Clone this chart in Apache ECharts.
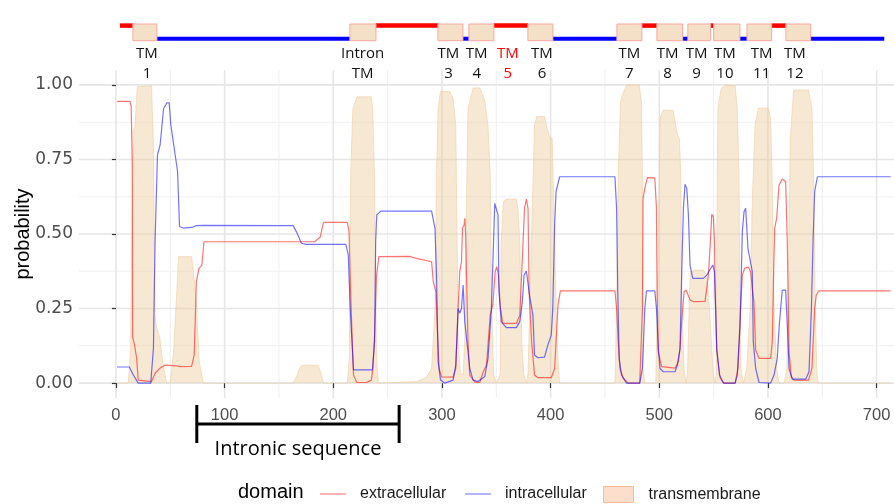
<!DOCTYPE html>
<html><head><meta charset="utf-8">
<script src="https://cdn.jsdelivr.net/npm/echarts@6/dist/echarts.min.js"></script>
<style>html,body{margin:0;padding:0;background:#fff}#c{width:894px;height:504px}</style>
</head><body><div id="c"></div>
<script>
// ---- axis ticks ----
const xTicks = [0,100,200,300,400,500,600,700];
const xMinor = [50,150,250,350,450,550,650];
const yTicks = [0,0.25,0.5,0.75,1];
const yMinor = [0.125,0.375,0.625,0.875];

// ---- extracellular probability ----
const extraPos = [1,12.9,14,15,15.3,17,19,20.5,22,32.8,36,40.5,45,55.8,58.8,69.6,72,74,76.4,79,81,183,188,191,212.9,214.5,215.5,217,218.6,221.7,230.7,235,236.5,238,239.8,242,270.5,276.7,290.5,292,294.5,296,297.4,299.6,310.3,312.7,314.9,316.4,318,318.9,320.4,321,321.8,322.6,324,325.6,330.3,334.8,338,341,344.4,346.8,349,350.5,352,353.5,355.9,368.5,371.6,374,376,377.7,379.2,380.2,382.5,385.2,388.3,400.6,403.7,406.8,409,459.2,460.7,462.2,463.8,466.8,471.4,482,484.5,485.1,487.3,489.1,495.9,497.4,498,499.1,502.1,503.7,514.5,517.6,519.1,520.6,522.8,524.7,528.3,531.4,542.1,545.2,547.4,548.3,549.8,550.8,551.4,552.9,556,559.1,569.8,572.4,574.9,576.4,578.6,581.6,584.1,585.6,587.1,588.7,591.8,602.5,604,605.2,606.2,608,610.2,613.2,616.3,617.8,619.4,621.5,624,637.4,640.5,643,644.5,646.6,713];
const extraVal = [0.945,0.945,0.93,0.74,0.155,0.13,0.085,0.01,0.005,0.005,0.033,0.05,0.06,0.058,0.055,0.056,0.094,0.34,0.385,0.395,0.474,0.474,0.49,0.539,0.539,0.508,0.362,0.19,0.027,0.002,0.002,0.01,0.05,0.16,0.362,0.424,0.425,0.418,0.407,0.34,0.306,0.16,0.049,0.021,0.02,0.049,0.25,0.374,0.407,0.519,0.53,0.553,0.5,0.362,0.139,0.027,0.003,0.002,0.038,0.06,0.228,0.262,0.374,0.39,0.362,0.262,0.2,0.2,0.228,0.418,0.586,0.617,0.586,0.306,0.139,0.027,0.018,0.018,0.049,0.262,0.309,0.309,0.25,0.139,0.049,0.017,0.0,0.0,0.25,0.62,0.664,0.689,0.688,0.586,0.306,0.105,0.055,0.05,0.05,0.072,0.116,0.206,0.306,0.312,0.279,0.273,0.274,0.362,0.497,0.566,0.558,0.474,0.306,0.105,0.017,0.0,0.0,0.05,0.25,0.362,0.385,0.39,0.374,0.317,0.273,0.111,0.083,0.083,0.139,0.362,0.519,0.553,0.664,0.685,0.675,0.474,0.105,0.021,0.01,0.01,0.05,0.25,0.295,0.309,0.309];

// ---- intracellular probability ----
const intraPos = [1,12.3,16,20.5,32,34.5,36,38.2,40.7,43.8,46.9,49,50.5,54.5,56.7,58.5,62,69.6,74,80.4,163,166,170.7,175,211.6,213.8,215.5,218.6,236,238,239,240,244,290.5,293.6,295,296.5,298.7,302.6,310.3,312.7,314.9,316.4,318,319.5,321,322.6,324,325.6,328.7,333,339.3,342.4,345.5,347,348.6,350,351.6,352.5,354.6,359.2,368.5,371.6,374,375.6,377.7,379.2,380.6,383.7,385.2,388.3,394.4,397.5,400.6,402,403.7,405,408.3,459.2,460.7,461.8,463.1,465.2,469.8,482,484.5,486.7,488.2,495.9,497.4,499.1,500.7,503.7,514.5,516.6,519.1,520.6,522.2,523.7,525.3,526.8,528.3,530.8,540.6,543.7,547.4,549.2,550.8,551.4,552.9,555.4,559.1,569.8,571.8,574.3,575.5,576.4,578,579.5,580.4,581.6,584.1,585.6,586.5,588.7,591.8,602.5,605.6,608.6,610.2,611.7,613.2,616.3,617.8,619.4,622.4,634.7,637.8,640,641.5,643,645.5,713];
const intraVal = [0.054,0.054,0.027,0.0,0.0,0.117,0.474,0.765,0.8,0.92,0.94,0.94,0.866,0.765,0.71,0.525,0.52,0.522,0.528,0.529,0.528,0.508,0.469,0.465,0.465,0.43,0.255,0.044,0.044,0.139,0.474,0.564,0.577,0.577,0.519,0.362,0.072,0.01,0.0,0.01,0.06,0.25,0.234,0.25,0.329,0.206,0.15,0.105,0.049,0.01,0.005,0.021,0.083,0.25,0.418,0.603,0.609,0.564,0.306,0.206,0.186,0.186,0.206,0.273,0.362,0.376,0.372,0.295,0.228,0.094,0.085,0.087,0.128,0.161,0.25,0.53,0.642,0.692,0.692,0.586,0.306,0.083,0.027,0.0,0.0,0.049,0.25,0.309,0.309,0.25,0.116,0.049,0.038,0.038,0.06,0.116,0.362,0.586,0.667,0.653,0.564,0.396,0.351,0.351,0.362,0.385,0.396,0.374,0.306,0.116,0.027,0.0,0.0,0.027,0.195,0.362,0.508,0.575,0.586,0.588,0.452,0.402,0.374,0.139,0.049,0.002,0.0,0.027,0.084,0.183,0.25,0.312,0.312,0.195,0.049,0.013,0.013,0.038,0.25,0.474,0.642,0.692,0.692];

// ---- transmembrane probability ----
const tmPos = [1,11.3,13.4,15.8,17.5,19.6,32.8,34.5,35.5,36,37.6,40.5,43,46.6,50,53,56,57.5,69.6,71,74,76.7,80.4,163,166,169,171,186,189,191,212.9,214.7,216,218,221.7,235,236.3,238,239.8,241.6,277,286,290.5,293.6,295,296.5,298.7,307.3,310.3,312.7,314,315,317,319.5,321,322.5,324,328.7,334.8,339.3,342.4,344.4,345.8,347.7,350,353.5,354.6,356.5,359.2,368.5,370,371.6,373.5,375.3,377.7,379.2,382.3,385.2,387.3,394.4,398.4,401.5,403.7,405.8,408.3,459.2,460.7,462.2,464.3,466.8,469.8,481.5,483.6,484.5,485.1,486.7,496.8,499.1,500.7,503.7,512.9,516,518.5,519.8,520.9,522.8,524.7,525.9,527.8,529,533,540.6,543.7,546.2,548.3,549.8,551.4,552.3,553.3,554,557,561.7,569.8,571.8,573.4,574.3,575.1,577.5,580.5,583.6,585.5,588.1,591.2,600.4,602.5,603.8,605.6,608,610.2,614.8,617.5,620.6,623.6,637.4,640.5,642,643.6,645.1,646.6,713];
const tmVal = [0,0,0.105,0.843,0.86,0.994,0.997,0.8,0.4,0.22,0.185,0.15,0.07,0,0,0.105,0.306,0.424,0.424,0.385,0.273,0.072,0,0,0.02,0.05,0.06,0.06,0.03,0,0,0.084,0.7,0.92,0.96,0.96,0.92,0.69,0.084,0,0.005,0.02,0.05,0.25,0.698,0.922,0.978,0.978,0.955,0.866,0.474,0.139,0.03,0.03,0.15,0.6,0.92,0.99,0.99,0.95,0.866,0.698,0.25,0.027,0,0.03,0.474,0.609,0.617,0.617,0.586,0.474,0.139,0.03,0,0.03,0.474,0.866,0.894,0.894,0.832,0.82,0.474,0.139,0,0,0.25,0.698,0.944,0.972,1.0,1.0,0.944,0.698,0.05,0,0,0.474,0.888,0.916,0.914,0.843,0.82,0.698,0.25,0.05,0,0.03,0.306,0.374,0.379,0.379,0.362,0.25,0.116,0.027,0,0.03,0.698,0.922,0.989,1.0,0.998,0.922,0.698,0.25,0.05,0,0.05,0.25,0.6,0.866,0.922,0.922,0.888,0.698,0.25,0.05,0,0,0.05,0.82,0.983,0.983,0.922,0.698,0.25,0.027,0,0];

// ---- topology bar ----
const tmBoxStart = [15.6,215.3,296.3,324.8,379.1,461,497.8,526.3,550,580.7,616.5];
const tmBoxEnd   = [37.7,239.3,319.3,347.8,402.1,484,521.5,547.2,574.2,603.4,639.3];
const extraSegStart = [3.7,239.3,347.8,484,547.2,603.4];
const extraSegEnd   = [15.6,296.3,379.1,497.8,550,616.5];
const intraSegStart = [37.7,319.3,402.1,521.5,574.2,639.3];
const intraSegEnd   = [215.3,324.8,461,526.3,580.7,707];

// ---- TM labels ----
const tmLabelPos = [28.5,227,306,332,360.6,392,472.4,507.6,534.3,560.4,594.2,624.8];
const tmLabelTop = ['TM','Intron','TM','TM','TM','TM','TM','TM','TM','TM','TM','TM'];
const tmLabelBottom = ['1','TM','3','4','5','6','7','8','9','10','11','12'];
const tmLabelRed = [false,false,false,false,true,false,false,false,false,false,false,false];

// ---- intronic sequence bracket ----
const intronRange = [74.4, 260.6];
const intronText = 'Intronic sequence';
const yTitle = 'probability';

// ================= chart =================
const XMIN = -34, XMAX = 716, YMIN = -0.05, YMAX = 1.05;
const RED = 'rgba(255,0,0,0.55)', BLUE = 'rgba(0,0,255,0.55)';
const TMFILL = 'rgba(236,200,150,0.42)';
const zip = (a,b) => a.map((v,i) => [v, b[i]]);

function vGrid(vals, color, width){
  return {type:'custom', xAxisIndex:0, yAxisIndex:0, z:0, silent:true,
    data: vals.map(v => [v, 0]),
    renderItem: (params, api) => {
      const cs = params.coordSys;
      const x = api.coord([api.value(0), 0])[0];
      return {type:'line', shape:{x1:x, y1:cs.y, x2:x, y2:cs.y+cs.height},
        style:{stroke:color, lineWidth:width}};
    }};
}
function hGrid(vals, color, width){
  return {type:'custom', xAxisIndex:0, yAxisIndex:0, z:0, silent:true,
    data: vals.map(v => [0, v]),
    renderItem: (params, api) => {
      const cs = params.coordSys;
      const y = api.coord([0, api.value(1)])[1];
      return {type:'line', shape:{x1:cs.x, y1:y, x2:cs.x+cs.width, y2:y},
        style:{stroke:color, lineWidth:width}};
    }};
}
function segSeries(starts, ends, level, color, width){
  return {type:'custom', xAxisIndex:1, yAxisIndex:1, z:5, silent:true,
    data: zip(starts, ends),
    renderItem: (params, api) => {
      const a = api.coord([api.value(0), level]);
      const b = api.coord([api.value(1), level]);
      return {type:'line', shape:{x1:a[0], y1:a[1], x2:b[0], y2:b[1]},
        style:{stroke:color, lineWidth:width, lineCap:'butt'}};
    }};
}

const option = {
  animation:false,
  backgroundColor:'#ffffff',
  title:{text:'domain', left:238, top:482, padding:0,
    textStyle:{fontFamily:'Liberation Sans', fontSize:20, fontWeight:'normal', color:'#000'}},
  graphic:[
    {type:'text', x:23, y:234, rotation:Math.PI/2, silent:true,
     style:{text:yTitle, fill:'#000', font:'20px "Liberation Sans"', align:'center', verticalAlign:'middle'}}
  ],
  legend:[
    {data:[{name:'extracellular', itemStyle:{color:'rgba(255,0,0,0.4)', borderWidth:0}}],
     left:320, top:486, padding:0, icon:'rect', itemWidth:26, itemHeight:1.5,
     textStyle:{fontFamily:'Liberation Sans', fontSize:16, color:'#1a1a1a', padding:[0,0,0,9]}},
    {data:[{name:'intracellular', itemStyle:{color:'rgba(0,0,255,0.4)', borderWidth:0}}],
     left:465, top:486, padding:0, icon:'rect', itemWidth:26, itemHeight:1.5,
     textStyle:{fontFamily:'Liberation Sans', fontSize:16, color:'#1a1a1a', padding:[0,0,0,9]}},
    {data:[{name:'transmembrane', itemStyle:{color:'rgba(248,200,168,0.6)', borderColor:'rgba(245,165,125,0.7)', borderWidth:1}}],
     left:603, top:486, padding:0, icon:'rect', itemWidth:30, itemHeight:16,
     textStyle:{fontFamily:'Liberation Sans', fontSize:16, color:'#1a1a1a', padding:[0,0,0,10]}}
  ],
  grid:[
    {left:79, right:0, top:70, height:328, containLabel:false, outerBoundsMode:'none'},
    {left:79, right:0, top:0, height:504, containLabel:false, outerBoundsMode:'none'}
  ],
  xAxis:[
    {type:'value', gridIndex:0, min:XMIN, max:XMAX,
     axisLine:{show:false}, splitLine:{show:false},
     axisTick:{show:true, length:5, customValues:xTicks, lineStyle:{color:'#333', width:1.2}},
     axisLabel:{customValues:xTicks, margin:9, color:'#4d4d4d', fontFamily:'Liberation Sans', fontSize:16.5}},
    {type:'value', gridIndex:1, min:XMIN, max:XMAX, show:false}
  ],
  yAxis:[
    {type:'value', gridIndex:0, min:YMIN, max:YMAX,
     axisLine:{show:false}, splitLine:{show:false},
     axisTick:{show:true, length:4, customValues:yTicks, lineStyle:{color:'#333', width:1.2}},
     axisLabel:{customValues:yTicks, margin:6, color:'#4d4d4d', fontFamily:'DejaVu Sans', fontSize:17,
       formatter: v => v.toFixed(2)}},
    {type:'value', gridIndex:1, min:0, max:504, inverse:true, show:false}
  ],
  series:[
    vGrid(xMinor, '#f0f0f0', 1.1),
    hGrid(yMinor, '#f0f0f0', 1.1),
    vGrid(xTicks, '#e6e6e6', 1.6),
    hGrid(yTicks, '#e6e6e6', 1.6),
    {name:'transmembrane', type:'line', xAxisIndex:0, yAxisIndex:0, z:2,
     data: zip(tmPos, tmVal), showSymbol:false, symbol:'none', silent:true,
     lineStyle:{color:'rgba(236,200,150,0.5)', width:1},
     itemStyle:{color:TMFILL},
     areaStyle:{color:TMFILL, opacity:1}},
    {name:'extracellular', type:'line', xAxisIndex:0, yAxisIndex:0, z:3,
     data: zip(extraPos, extraVal), showSymbol:false, symbol:'none', silent:true,
     lineStyle:{color:RED, width:1.2}, itemStyle:{color:RED}},
    {name:'intracellular', type:'line', xAxisIndex:0, yAxisIndex:0, z:4,
     data: zip(intraPos, intraVal), showSymbol:false, symbol:'none', silent:true,
     lineStyle:{color:BLUE, width:1.2}, itemStyle:{color:BLUE}},
    // topology bar
    segSeries(extraSegStart, extraSegEnd, 25.6, '#ff0000', 4.5),
    segSeries(intraSegStart, intraSegEnd, 38.7, '#0000ff', 4),
    {type:'custom', xAxisIndex:1, yAxisIndex:1, z:6, silent:true,
     data: zip(tmBoxStart, tmBoxEnd),
     renderItem: (params, api) => {
       const a = api.coord([api.value(0), 24]);
       const b = api.coord([api.value(1), 40.7]);
       return {type:'rect', shape:{x:a[0], y:a[1], width:b[0]-a[0], height:b[1]-a[1]},
         style:{fill:'#f4e0c6', stroke:'#f8a8a0', lineWidth:1}};
     }},
    // TM labels
    {type:'custom', xAxisIndex:1, yAxisIndex:1, z:7, silent:true,
     data: tmLabelPos.map((p,i) => [p, i]),
     renderItem: (params, api) => {
       const i = api.value(1);
       const x = api.coord([api.value(0), 0])[0];
       const y1 = api.coord([0, 53.5])[1];
       const y2 = api.coord([0, 73.5])[1];
       const col = tmLabelRed[i] ? '#ff0000' : '#111';
       const font = '15px "Open Sans"';
       return {type:'group', children:[
         {type:'text', x:x, y:y1, style:{text:tmLabelTop[i], fill:col, font:font, align:'center', verticalAlign:'middle'}},
         {type:'text', x:x, y:y2, style:{text:tmLabelBottom[i], fill:col, font:font, align:'center', verticalAlign:'middle'}}
       ]};
     }},
    // intronic bracket
    {type:'custom', xAxisIndex:1, yAxisIndex:1, z:7, silent:true,
     data: [intronRange],
     renderItem: (params, api) => {
       const s = api.value(0), e = api.value(1);
       const l1 = api.coord([s, 405]), l2 = api.coord([s, 443]);
       const r1 = api.coord([e, 405]), r2 = api.coord([e, 443]);
       const h1 = api.coord([s, 424]), h2 = api.coord([e, 424]);
       const t = api.coord([(s+e)/2, 449]);
       const st = {stroke:'#000', lineWidth:3};
       return {type:'group', children:[
         {type:'line', shape:{x1:l1[0], y1:l1[1], x2:l2[0], y2:l2[1]}, style:st},
         {type:'line', shape:{x1:r1[0], y1:r1[1], x2:r2[0], y2:r2[1]}, style:st},
         {type:'line', shape:{x1:h1[0], y1:h1[1], x2:h2[0], y2:h2[1]}, style:st},
         {type:'text', x:t[0], y:t[1], style:{text:intronText, fill:'#000', font:'20px "Open Sans"', align:'center', verticalAlign:'middle'}}
       ]};
     }}
  ]
};
const chart = echarts.init(document.getElementById('c'), null, {renderer:'canvas'});
chart.setOption(option);
</script>
</body></html>
